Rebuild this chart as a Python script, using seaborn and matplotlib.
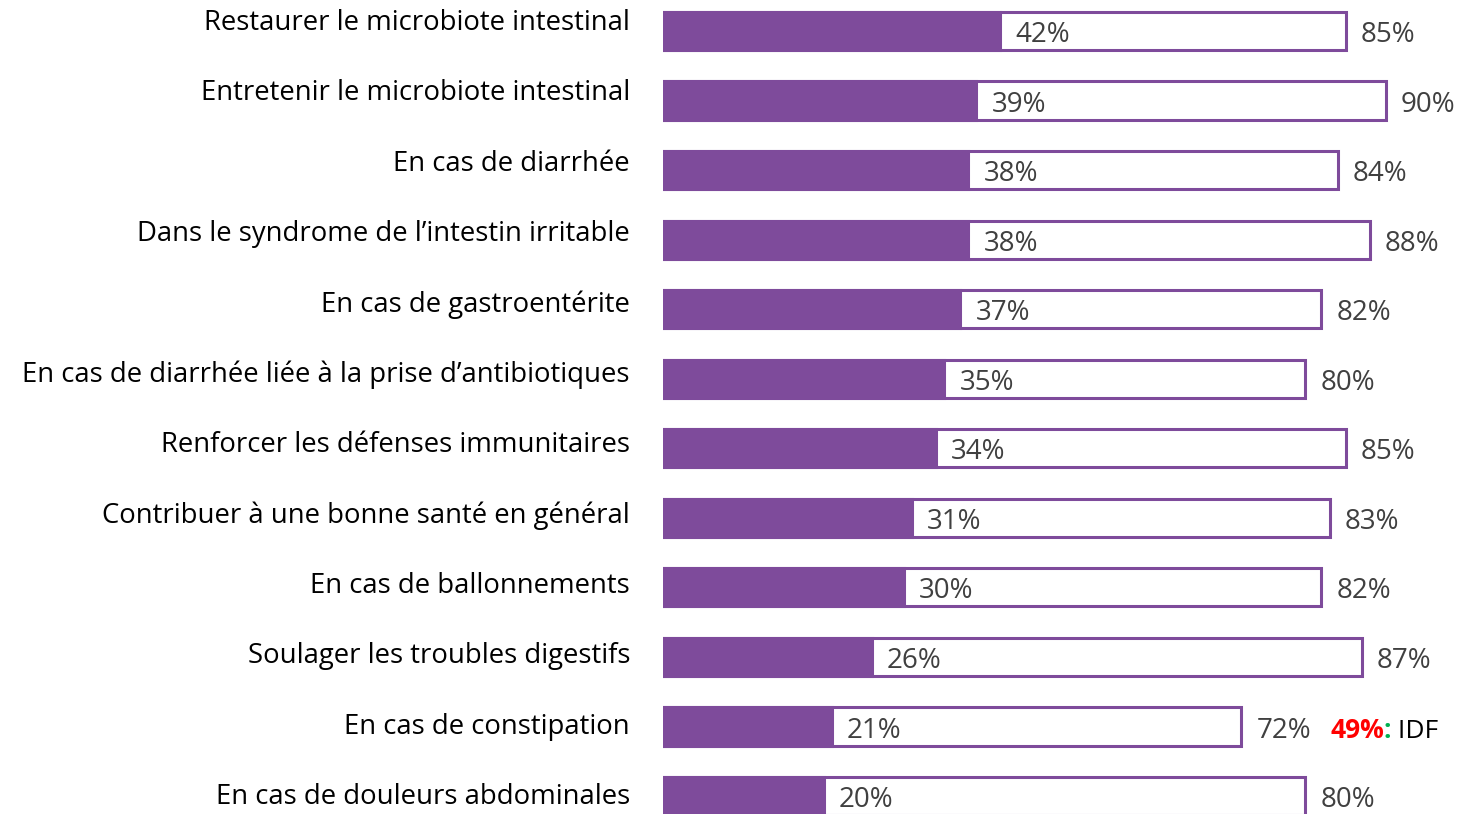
import matplotlib
matplotlib.use("Agg")
import matplotlib.pyplot as plt
import seaborn as sns
import pandas as pd

# données
categories = [
    "Restaurer le microbiote intestinal",
    "Entretenir le microbiote intestinal",
    "En cas de diarrhée",
    "Dans le syndrome de l’intestin irritable",
    "En cas de gastroentérite",
    "En cas de diarrhée liée à la prise d’antibiotiques",
    "Renforcer les défenses immunitaires",
    "Contribuer à une bonne santé en général",
    "En cas de ballonnements",
    "Soulager les troubles digestifs",
    "En cas de constipation",
    "En cas de douleurs abdominales",
]
inner_vals = [42, 39, 38, 38, 37, 35, 34, 31, 30, 26, 21, 20]
outer_vals = [85, 90, 84, 88, 82, 80, 85, 83, 82, 87, 72, 80]

df = pd.DataFrame({"cat": categories, "inner": inner_vals, "outer": outer_vals})

purple = "#7E4B9B"
grey = "#404040"

sns.set_style("white")
plt.rcParams['font.family'] = ['Open Sans', 'DejaVu Sans']

fig = plt.figure(figsize=(14.62, 8.14), dpi=100)
ax = fig.add_axes([663 / 1462, 0, 1 - 663 / 1462, 1])
# axe séparé pour les libellés (espacement un peu différent des barres)
lab_ax = fig.add_axes([0, 0, 630 / 1462, 1])
lab_ax.axis("off")
lab_ax.set_xlim(0, 1)
lab_ax.set_ylim(11.24, -0.327)

# barre extérieure (contour seulement)
sns.barplot(data=df, x="outer", y="cat", orient="h", ax=ax, color="white",
            edgecolor=purple, linewidth=2.2, width=0.55, saturation=1)
# barre intérieure pleine
sns.barplot(data=df, x="inner", y="cat", orient="h", ax=ax, color=purple,
            edgecolor=purple, linewidth=2.2, width=0.55, saturation=1)

ax.set_xlim(0, 99.5)
ax.set_ylim(11.26, -0.446)
ax.set_xlabel("")
ax.set_ylabel("")
ax.set_xticks([])
ax.set_yticks([])
for s in ax.spines.values():
    s.set_visible(False)

for i, (c, a, b) in enumerate(zip(categories, inner_vals, outer_vals)):
    lab_ax.text(1, i, c, ha="right", va="center", fontsize=19.8, color="black")
    ax.annotate(f"{a}%", (a, i), xytext=(11, -3), textcoords="offset points",
                ha="left", va="center", fontsize=20, color=grey)
    ax.annotate(f"{b}%", (b, i), xytext=(11, -3), textcoords="offset points",
                ha="left", va="center", fontsize=20, color=grey)

# annotation IDF
k = categories.index("En cas de constipation")
t1 = ax.annotate("49%", (outer_vals[k], k), xytext=(64, -3), textcoords="offset points",
                 ha="left", va="center", fontsize=19, color="#FF0000", fontweight="bold")
t2 = ax.annotate(":", xy=(1, 0), xycoords=t1, ha="left", va="bottom",
                 fontsize=19, color="#00B050", fontweight="bold")
ax.annotate(" IDF", xy=(1, 0), xycoords=t2, ha="left", va="bottom",
            fontsize=19, color="black")

fig.savefig("out.png", dpi=100)
